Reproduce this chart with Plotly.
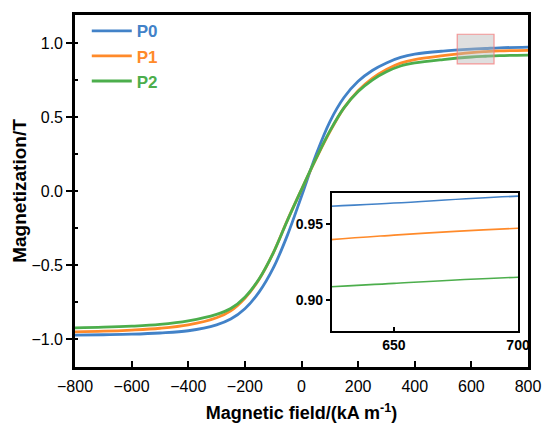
import plotly.graph_objects as go

# Magnetic field sample points (kA m^-1)
field = [-800, -700, -600, -500, -400, -300, -250, -200, -150, -100, -50, 0,
         50, 100, 150, 200, 250, 300, 350, 400, 500, 600, 650, 700, 800]

# Magnetization (T) for each sample
p0 = [-0.975, -0.972, -0.968, -0.960, -0.945, -0.905, -0.866, -0.796, -0.684, -0.522, -0.300, -0.035,
      0.238, 0.468, 0.632, 0.742, 0.815, 0.866, 0.903, 0.925, 0.946, 0.959, 0.9635, 0.968, 0.973]
p1 = [-0.952, -0.948, -0.940, -0.928, -0.905, -0.857, -0.810, -0.725, -0.598, -0.420, -0.198, 0.010,
      0.212, 0.400, 0.562, 0.678, 0.762, 0.822, 0.865, 0.889, 0.915, 0.936, 0.9425, 0.947, 0.951]
p2 = [-0.925, -0.921, -0.914, -0.902, -0.878, -0.834, -0.795, -0.718, -0.595, -0.420, -0.200, 0.010,
      0.215, 0.405, 0.562, 0.672, 0.750, 0.806, 0.845, 0.866, 0.889, 0.906, 0.911, 0.915, 0.919]

series_names = ["P0", "P1", "P2"]
series_values = [p0, p1, p2]
series_colors = ["#4282c8", "#ff8a2a", "#4cae4c"]

# Zoomed window drawn in the inset, and the highlighted region on the main plot
inset_x_range = [625, 700]
inset_y_range = [0.88, 0.97]
inset_x_ticks = [650, 700]
inset_y_ticks = [0.90, 0.95]
highlight_x = [550, 680]
highlight_y = [0.86, 1.06]

x_ticks = [-800, -600, -400, -200, 0, 200, 400, 600, 800]

FONT = "Arial, Liberation Sans, sans-serif"

fig = go.Figure()

for name, vals, col in zip(series_names, series_values, series_colors):
    fig.add_trace(go.Scatter(
        x=field, y=vals, mode="lines",
        line=dict(color=col, width=2.8, shape="spline", smoothing=1.0),
        name=f"<b><span style='color:{col}'>{name}</span></b>",
    ))

for name, vals, col in zip(series_names, series_values, series_colors):
    fig.add_trace(go.Scatter(
        x=field, y=vals, mode="lines",
        line=dict(color=col, width=1.6, shape="spline", smoothing=1.0),
        xaxis="x2", yaxis="y2", showlegend=False, name=name,
    ))

fig.add_shape(
    type="rect", xref="x", yref="y",
    x0=highlight_x[0], x1=highlight_x[1], y0=highlight_y[0], y1=highlight_y[1],
    fillcolor="rgba(185,185,185,0.45)",
    line=dict(color="rgba(245,120,120,0.75)", width=1.2),
    layer="above",
)

axis_common = dict(showline=True, linecolor="black", mirror=True,
                   showgrid=False, zeroline=False, tickcolor="black")

fig.update_layout(
    width=555, height=433,
    margin=dict(l=75, r=27, t=12, b=61),
    paper_bgcolor="white", plot_bgcolor="white",
    font=dict(family=FONT, color="black"),
    showlegend=True,
    legend=dict(x=0.026, y=1.005, xanchor="left", yanchor="top",
                bgcolor="rgba(0,0,0,0)", font=dict(size=17, family=FONT),
                itemwidth=40, tracegroupgap=0),
    xaxis=dict(
        **axis_common, linewidth=2.6,
        range=[-800, 800], tickvals=x_ticks,
        ticks="inside", ticklen=6, tickwidth=2,
        tickfont=dict(size=16), ticklabelstandoff=3,
        title=dict(text="<b>Magnetic field/(kA m<sup>-1</sup>)</b>",
                   font=dict(size=18), standoff=13),
    ),
    yaxis=dict(
        **axis_common, linewidth=2.6,
        range=[-1.19, 1.19], dtick=0.5, tick0=0, tickformat=".1f",
        ticks="outside", ticklen=6, tickwidth=2,
        minor=dict(dtick=0.25, tick0=0, ticks="inside", ticklen=3,
                   tickwidth=2, tickcolor="black"),
        tickfont=dict(size=16),
        title=dict(text="<b>Magnetization/T</b>", font=dict(size=19), standoff=0),
    ),
    xaxis2=dict(
        **axis_common, linewidth=2, anchor="y2",
        domain=[0.567, 0.978], range=inset_x_range, tickvals=inset_x_ticks,
        ticks="inside", ticklen=4, tickwidth=1.5,
        tickfont=dict(size=14, weight="bold"),
    ),
    yaxis2=dict(
        **axis_common, linewidth=2, anchor="x2",
        domain=[0.103, 0.494], range=inset_y_range, tickvals=inset_y_ticks,
        tickformat=".2f", ticks="outside", ticklen=4, tickwidth=1.5,
        tickfont=dict(size=14, weight="bold"),
    ),
)

fig.write_html("out.html")
